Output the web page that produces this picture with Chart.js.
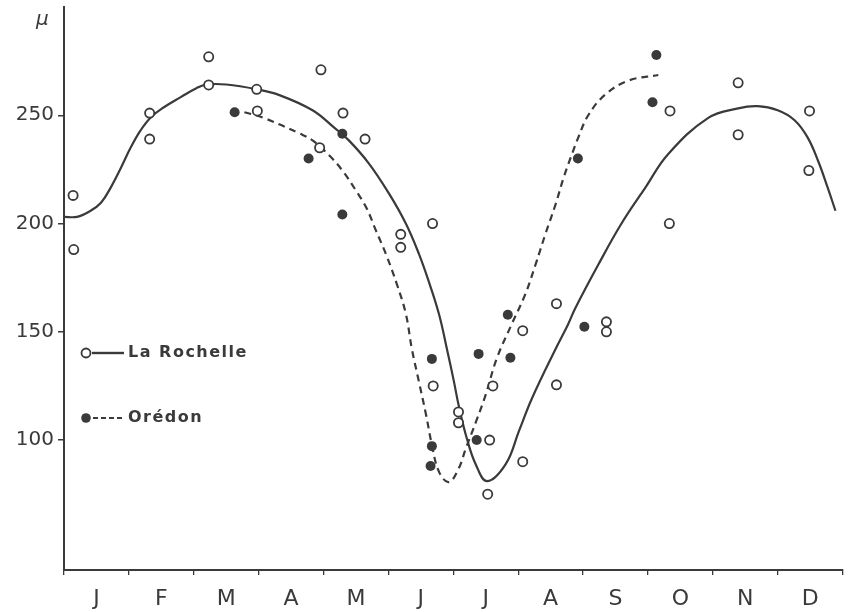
<!DOCTYPE html>
<html>
<head>
<meta charset="utf-8">
<script src="https://cdn.jsdelivr.net/npm/chart.js@4.4.1/dist/chart.umd.min.js"></script>
<style>
  html, body { margin: 0; padding: 0; background: #fff; }
  #wrap { width: 849px; height: 612px; }
</style>
</head>
<body>
<div id="wrap"><canvas id="c" width="849" height="612"></canvas></div>
<script>
// month letters and y ticks
const months = ['J', 'F', 'M', 'A', 'M', 'J', 'J', 'A', 'S', 'O', 'N', 'D'];
const yTicks = [100, 150, 200, 250];

const rochelleObs = [
    [0.14, 213], [0.15, 188], [1.32, 251], [1.32, 239], [2.23, 277], [2.23, 264],
    [2.97, 262], [2.98, 252], [3.96, 271], [3.94, 235], [4.30, 251], [4.64, 239],
    [5.19, 195], [5.19, 189], [5.68, 200], [5.69, 125], [6.08, 113], [6.08, 108],
    [6.56, 100], [6.61, 125], [6.53, 75], [7.07, 150.5], [7.07, 90], [7.59, 163],
    [7.59, 125.5], [8.36, 154.6], [8.36, 150], [9.34, 252], [9.33, 200],
    [10.39, 265], [10.39, 241], [11.49, 252], [11.48, 224.5]
];
const oredonObs = [
    [2.63, 251.4], [3.77, 230], [4.29, 241.5], [4.29, 204.2], [5.67, 137.5],
    [5.67, 97.2], [5.65, 88], [6.36, 100], [6.39, 139.8], [6.84, 157.9],
    [6.88, 138], [7.92, 230], [8.02, 152.3], [9.13, 277.8], [9.07, 256]
];

// fitted curves
const rochelleCurve = [
    [0, 203.1], [0.20, 203.1], [0.41, 205.9], [0.57, 209.6], [0.72, 216.6],
    [0.88, 225.9], [1.03, 235.2], [1.18, 243], [1.34, 249.1], [1.54, 253.7],
    [1.80, 258.4], [2.04, 262.5], [2.20, 264.2], [2.50, 264.2], [2.97, 262],
    [3.32, 259.3], [3.83, 252.3], [4.16, 244.4], [4.39, 238.4], [4.70, 227.7],
    [5.01, 213.8], [5.27, 199.9], [5.47, 186], [5.62, 173.4], [5.78, 158.1],
    [5.90, 142.3], [6.01, 127], [6.08, 116.4], [6.21, 100.6], [6.35, 88.5],
    [6.52, 81], [6.81, 89], [7.01, 104], [7.21, 119.1], [7.58, 142.3],
    [7.77, 153.5], [7.88, 160.9], [8.24, 181.3], [8.59, 199.9], [8.96, 216.6],
    [9.31, 232], [9.93, 248.8], [10.39, 253.2], [10.69, 254.2], [11.00, 252.3],
    [11.26, 247.7], [11.46, 239.8], [11.62, 229.1], [11.77, 216.6], [11.89, 205.9]
];
const oredonCurve = [
    [2.78, 251.4], [3.06, 249], [3.63, 241.6], [3.83, 238.4], [4.09, 231.4],
    [4.29, 224.5], [4.50, 215.2], [4.66, 207.3], [4.81, 196.6], [4.96, 186],
    [5.13, 172], [5.27, 158.1], [5.36, 142.3], [5.47, 127], [5.58, 111.7],
    [5.67, 97.8], [5.78, 85.3], [5.93, 80.6], [6.08, 86.7], [6.19, 95.9],
    [6.35, 108.5], [6.50, 121], [6.67, 137.7], [6.90, 153.5], [7.11, 167.4],
    [7.27, 181.3], [7.42, 195.2], [7.58, 209.2], [7.70, 221.2], [7.81, 230.5],
    [7.93, 240], [8.08, 250], [8.34, 259.5], [8.70, 266], [9.16, 268.6]
];

const ink = '#3a3a3a';
const toXY = arr => arr.map(p => ({ x: p[0], y: p[1] }));

// draws the mu label and the in-plot legend
const extras = {
    id: 'extras',
    afterDraw(chart) {
        const ctx = chart.ctx;
        const a = chart.chartArea;
        ctx.save();
        ctx.fillStyle = ink;
        ctx.strokeStyle = ink;
        ctx.font = 'italic 20px "DejaVu Sans"';
        ctx.textBaseline = 'middle';
        ctx.textAlign = 'left';
        ctx.fillText('μ', a.left - 28, 20);

        const lx = a.left + 22;
        ctx.font = 'bold 16px "DejaVu Sans"';
        ctx.letterSpacing = '1.5px';
        // La Rochelle
        let ly = 353;
        ctx.lineWidth = 2.4;
        ctx.beginPath();
        ctx.moveTo(lx + 6, ly); ctx.lineTo(lx + 38, ly); ctx.stroke();
        ctx.beginPath();
        ctx.arc(lx, ly, 4.5, 0, Math.PI * 2);
        ctx.fillStyle = '#fff'; ctx.fill();
        ctx.lineWidth = 1.8; ctx.stroke();
        ctx.fillStyle = ink;
        ctx.fillText('La Rochelle', lx + 42, ly);
        // Orédon
        ly = 418;
        ctx.lineWidth = 2;
        ctx.setLineDash([5, 3]);
        ctx.beginPath();
        ctx.moveTo(lx + 7, ly); ctx.lineTo(lx + 38, ly); ctx.stroke();
        ctx.setLineDash([]);
        ctx.beginPath();
        ctx.arc(lx, ly, 4.8, 0, Math.PI * 2);
        ctx.fill();
        ctx.fillText('Orédon', lx + 42, ly);
        ctx.restore();
    }
};

new Chart(document.getElementById('c'), {
    type: 'scatter',
    data: {
        datasets: [
            {
                label: 'La Rochelle',
                data: toXY(rochelleObs),
                pointRadius: 4.6,
                pointBorderWidth: 1.8,
                pointBackgroundColor: '#fff',
                pointBorderColor: ink,
                order: 0
            },
            {
                label: 'Orédon',
                data: toXY(oredonObs),
                pointRadius: 5,
                pointBorderWidth: 0,
                pointBackgroundColor: ink,
                pointBorderColor: ink,
                order: 0
            },
            {
                label: 'La Rochelle fit',
                data: toXY(rochelleCurve),
                showLine: true,
                pointRadius: 0,
                borderColor: ink,
                borderWidth: 2.2,
                tension: 0.4,
                order: 1
            },
            {
                label: 'Orédon fit',
                data: toXY(oredonCurve),
                showLine: true,
                pointRadius: 0,
                borderColor: ink,
                borderWidth: 2.2,
                borderDash: [7, 5],
                tension: 0.4,
                order: 1
            }
        ]
    },
    options: {
        responsive: false,
        animation: false,
        layout: { padding: { top: 7, right: 4, left: 0, bottom: 0 } },
        plugins: { legend: { display: false }, tooltip: { enabled: false } },
        scales: {
            x: {
                type: 'linear',
                position: 'bottom',
                min: 0,
                max: 12,
                afterBuildTicks: s => { s.ticks = months.map((m, i) => ({ value: i })).concat([{ value: 12 }]); },
                ticks: { display: false },
                grid: { drawOnChartArea: false, tickLength: 5, color: ink, lineWidth: 1.3 },
                border: { color: ink, width: 2 },
                afterFit: s => { s.height = 6; s.paddingLeft = 0; s.paddingRight = 0; }
            },
            xm: {
                type: 'linear',
                position: 'bottom',
                min: 0,
                max: 12,
                afterBuildTicks: s => { s.ticks = months.map((m, i) => ({ value: i + 0.5 })); },
                ticks: {
                    autoSkip: false,
                    maxRotation: 0,
                    padding: 2,
                    color: ink,
                    font: { family: 'DejaVu Sans', size: 22 },
                    callback: v => months[Math.floor(v)]
                },
                grid: { display: false },
                border: { display: false },
                afterFit: s => { s.height = 36; s.paddingLeft = 0; s.paddingRight = 0; }
            },
            y: {
                type: 'linear',
                min: 40,
                max: 300,
                afterBuildTicks: s => { s.ticks = yTicks.map(v => ({ value: v })); },
                ticks: {
                    padding: 4,
                    color: ink,
                    font: { family: 'DejaVu Sans', size: 20 }
                },
                grid: { drawOnChartArea: false, tickLength: 6, color: ink, lineWidth: 1.5 },
                border: { color: ink, width: 2 },
                afterFit: s => { s.width = 64; s.paddingTop = 0; s.paddingBottom = 0; }
            }
        }
    },
    plugins: [extras]
});
</script>
</body>
</html>
